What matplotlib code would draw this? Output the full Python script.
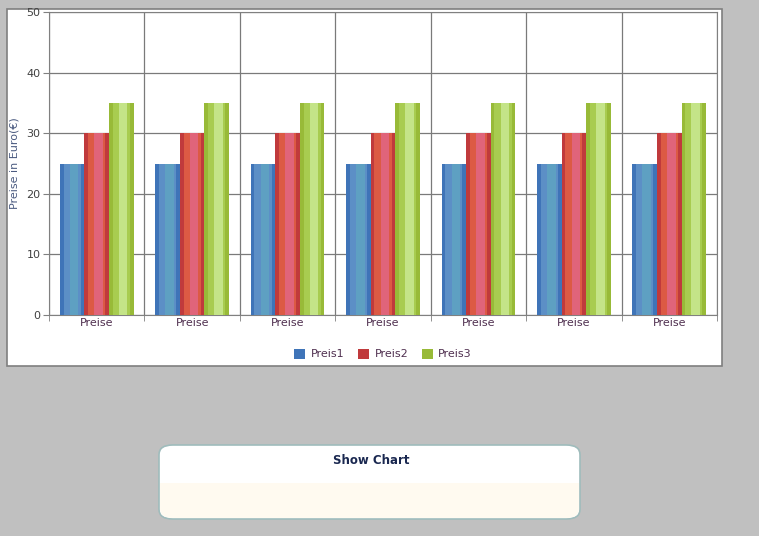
import numpy as np
import matplotlib.pyplot as plt
from matplotlib.patches import Rectangle, FancyBboxPatch

categories = ['Preise'] * 7
preis1 = [25, 25, 25, 25, 25, 25, 25]
preis2 = [30, 30, 30, 30, 30, 30, 30]
preis3 = [35, 35, 35, 35, 35, 35, 35]
series_names = ['Preis1', 'Preis2', 'Preis3']

W, H = 759, 536
fig = plt.figure(figsize=(W / 100, H / 100), dpi=100)
fig.patch.set_facecolor('#c0c0c0')

# white chart panel (behind the axes)
fig.patches.append(Rectangle((7 / W, 1 - 366 / H), 715 / W, 357 / H, transform=fig.transFigure,
                             facecolor='white', edgecolor='#7f7f7f', lw=1.2, zorder=-5))

ax = fig.add_axes([49 / W, 1 - 315 / H, 668 / W, 303 / H])
ax.set_facecolor('white')

x = np.arange(len(categories))
bw = 0.257
# base colour, mid tone, light centre
styles = [('#3f74b8', '#5c8fc6', '#5ea0c2'),
          ('#c03a3c', '#dc5a44', '#e0647a'),
          ('#98ba38', '#a8cc50', '#c4e488')]
data = [preis1, preis2, preis3]
for i, (vals, st) in enumerate(zip(data, styles)):
    pos = x + (i - 1) * bw
    ax.bar(pos, vals, bw, color=st[0], label=series_names[i], zorder=3)
    ax.bar(pos, vals, bw * 0.7, color=st[1], zorder=3)
    ax.bar(pos + bw * 0.08, vals, bw * 0.35, color=st[2], zorder=3)

ax.set_xlim(-0.5, len(categories) - 0.5)
ax.set_ylim(0, 50)
ax.set_yticks(range(0, 51, 10))
ax.set_xticks(x)
ax.set_xticklabels(categories, color='#503050', fontsize=8)
ax.set_xticks(np.arange(-0.5, len(categories)), minor=True)
ax.tick_params(axis='x', which='major', length=0, pad=2)
ax.tick_params(axis='x', which='minor', length=4, color='#808080')
ax.tick_params(axis='y', length=4, color='#808080', labelsize=8, labelcolor='#404040', pad=2)
ax.grid(True, which='minor', axis='x', color='#7a7a7a', lw=0.9, zorder=1)
ax.grid(True, which='major', axis='y', color='#7a7a7a', lw=0.9, zorder=1)
for s in ax.spines.values():
    s.set_color('#808080')
ax.set_ylabel('Preise in Euro(€)', color='#4a5a80', fontsize=8, labelpad=5)

handles, labels = ax.get_legend_handles_labels()
fig.legend(handles, labels, loc='center', bbox_to_anchor=(383 / W, 1 - 354 / H), ncol=3,
           frameon=False, fontsize=8, handlelength=1.0, handleheight=1.0,
           columnspacing=1.2, handletextpad=0.5, labelcolor='#503050')

# button box: white top, cream bottom
fig.patches.append(FancyBboxPatch((159 / W, 1 - 519 / H), 421 / W, 74 / H,
                                  boxstyle='round,pad=0,rounding_size=0.018',
                                  transform=fig.transFigure, facecolor='white',
                                  edgecolor='#9fbcbc', lw=1.2, zorder=1))
fig.patches.append(FancyBboxPatch((160 / W, 1 - 518 / H), 419 / W, 35 / H,
                                  boxstyle='round,pad=0,rounding_size=0.017',
                                  transform=fig.transFigure, facecolor='#fffaf0',
                                  edgecolor='none', zorder=2))
fig.patches.append(Rectangle((160 / W, 1 - 496 / H), 419 / W, 13 / H, transform=fig.transFigure,
                             facecolor='#fffaf0', edgecolor='none', zorder=2))
fig.text(371 / W, 1 - 461 / H, 'Show Chart', ha='center', va='center', fontsize=8.5,
         fontweight='bold', color='#1a2850', zorder=3)

fig.savefig('out.png', dpi=100, facecolor=fig.get_facecolor())
